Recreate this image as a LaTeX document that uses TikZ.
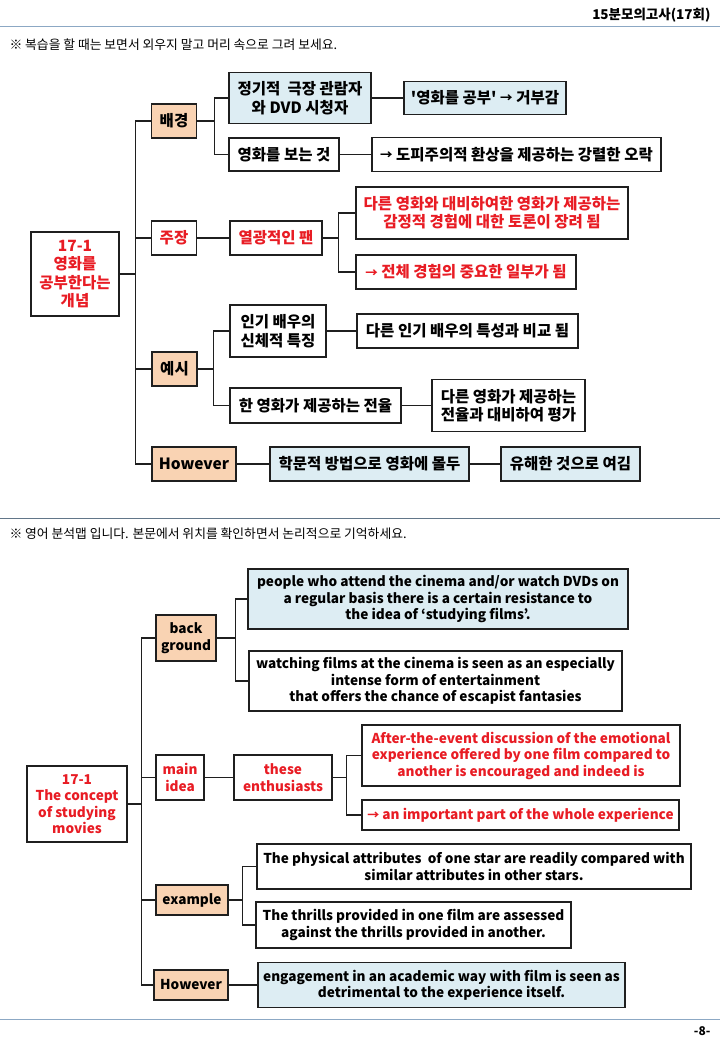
\documentclass[tikz,border=0pt]{standalone}
\usepackage{fontspec}
\setmainfont{Noto Sans CJK KR}
\newfontfamily\plainkr{Noto Sans CJK KR}
\usepackage{tikz}
\definecolor{peach}{RGB}{249,211,179}
\definecolor{pale}{RGB}{221,237,243}
\definecolor{alert}{RGB}{232,28,36}
\definecolor{rule}{RGB}{140,168,196}
\newcommand\smallarr{\raisebox{0.8pt}{\fontsize{12.5}{12.5}\selectfont →}}
\newcommand\enarr{\raisebox{-0.6pt}{\fontsize{12}{12}\selectfont →}}
\newcommand\tick{{\plainkr\bfseries '}}

\begin{document}
\begin{tikzpicture}[x = 1pt, y = -1pt,
  box/.style = {draw = black!88, line width = 1.3pt, align = center, inner sep = 0pt,
    font = \bfseries\fontsize{15.5}{18.5}\selectfont},
  sz/.style 2 args = {minimum width = #1, minimum height = #2},
  peachbox/.style = {box, fill = peach},
  palebox/.style = {box, fill = pale},
  hot/.style = {text = alert},
  en/.style = {font = \bfseries\fontsize{13.6}{16.5}\selectfont},
  wire/.style = {line width = 1.3pt, black!88}]
 \useasboundingbox (0, 0) rectangle (720, 1040);

 \node[anchor = east, font = \bfseries\fontsize{13.5}{15}\selectfont] (title) at (714, 15) {15분모의고사(17회)};
 \draw[rule, line width = 1pt] (0, 27) -- (720, 27);
 \node[anchor = west, font = \fontsize{12.8}{15}\selectfont] (hint1) at (6, 45) {※ 복습을 할 때는 보면서 외우지 말고 머리 속으로 그려 보세요.};

 \node[box, hot, sz = {88}{84}] (root1) at (75, 274) {17-1\\영화를\\공부한다는\\개념};
 \node[peachbox, sz = {45}{34}] (bg1) at (174, 121) {배경};
 \node[palebox, sz = {142}{51}] (bg1a) at (300, 98) {정기적\ \ 극장 관람자\\와 DVD 시청자};
 \node[palebox, sz = {162}{33}] (bg1b) at (485, 98) {\tick 영화를 공부\tick\ \smallarr\ 거부감};
 \node[box, sz = {110}{33}] (bg2) at (284, 154.5) {영화를 보는 것};
 \node[box, sz = {289}{34}] (bg2a) at (516.5, 154.5) {\smallarr\ 도피주의적 환상을 제공하는 강렬한 오락};
 \node[box, hot, sz = {45}{34}] (cl1) at (174, 238) {주장};
 \node[box, hot, sz = {92}{34}] (cl1a) at (276, 238) {열광적인 팬};
 \node[box, hot, sz = {272}{52}] (cl1b) at (492, 213) {다른 영화와 대비하여한 영화가 제공하는\\감정적 경험에 대한 토론이 장려 됨};
 \node[box, hot, sz = {220}{34}] (cl1c) at (466, 272) {\smallarr\ 전체 경험의 중요한 일부가 됨};
 \node[peachbox, sz = {45}{34}] (ex1) at (174.5, 369) {예시};
 \node[box, sz = {96}{52}] (ex1a) at (278, 331) {인기 배우의\\신체적 특징};
 \node[box, sz = {221}{34}] (ex1b) at (467.5, 331) {다른 인기 배우의 특성과 비교 됨};
 \node[box, sz = {171}{35}] (ex2) at (315.5, 405.5) {한 영화가 제공하는 전율};
 \node[box, sz = {153}{52}] (ex2a) at (508.5, 405.5) {다른 영화가 제공하는\\전율과 대비하여 평가};
 \node[peachbox, sz = {84}{34}] (hw1) at (194, 464) {However};
 \node[palebox, sz = {199}{34}] (hw1a) at (369.5, 464) {학문적 방법으로 영화에 몰두};
 \node[palebox, sz = {139}{34}] (hw1b) at (570.5, 464) {유해한 것으로 여김};

 \foreach \kid in {bg1, cl1, ex1, hw1}
  \draw[wire] (root1.east) -- ++(16, 0) |- (\kid.west);
 \draw[wire] (bg1.east) -- ++(17, 0) |- (bg1a.west);
 \draw[wire] (bg1.east) -- ++(17, 0) |- (bg2.west);
 \draw[wire] (bg1a.east) -- (bg1b.west);
 \draw[wire] (bg2.east) -- (bg2a.west);
 \draw[wire] (cl1.east) -- (cl1a.west);
 \draw[wire] (cl1a.east) -- ++(16, 0) |- (cl1b.west);
 \draw[wire] (cl1a.east) -- ++(16, 0) |- (cl1c.west);
 \draw[wire] (ex1.east) -- ++(16, 0) |- (ex1a.west);
 \draw[wire] (ex1.east) -- ++(16, 0) |- (ex2.west);
 \draw[wire] (ex1a.east) -- (ex1b.west);
 \draw[wire] (ex2.east) -- (ex2a.west);
 \draw[wire] (hw1.east) -- (hw1a.west);
 \draw[wire] (hw1a.east) -- (hw1b.west);

 \draw[rule!70!black, line width = 1pt] (0, 518) -- (720, 518);
 \node[anchor = west, font = \fontsize{12.8}{15}\selectfont] (hint2) at (6, 534) {※ 영어 분석맵 입니다. 본문에서 위치를 확인하면서 논리적으로 기억하세요.};

 \node[box, en, hot, sz = {100}{76}] (root2) at (77, 804) {17-1\\The concept\\of studying\\movies};
 \node[peachbox, en, sz = {60}{46}] (bg3) at (186, 638) {back\\ground};
 \node[palebox, en, sz = {380}{60}] (bg3a) at (438, 599) {people who attend the cinema and/or watch DVDs on\\a regular basis there is a certain resistance to\\the idea of ‘studying films’.};
 \node[box, en, sz = {373}{60}] (bg3b) at (435.5, 681) {watching films at the cinema is seen as an especially\\intense form of entertainment\\that offers the chance of escapist fantasies};
 \node[box, en, hot, sz = {48}{45}] (mi) at (180, 777.5) {main\\idea};
 \node[box, en, hot, sz = {98}{45}] (mia) at (283, 777.5) {these\\enthusiasts};
 \node[box, en, hot, sz = {318}{61}] (mib) at (521, 755.5) {After-the-event discussion of the emotional\\experience offered by one film compared to\\another is encouraged and indeed is};
 \node[box, en, hot, sz = {317}{30}] (mic) at (520.5, 815) {\enarr\ an important part of the whole experience};
 \node[peachbox, en, sz = {72}{30}] (ex3) at (192, 900) {example};
 \node[box, en, sz = {434}{45}] (ex3a) at (474, 866.5) {The physical attributes\ \ of one star are readily compared with\\similar attributes in other stars.};
 \node[box, en, sz = {315}{46}] (ex3b) at (413.5, 925) {The thrills provided in one film are assessed\\against the thrills provided in another.};
 \node[peachbox, en, sz = {74}{30}] (hw2) at (191, 985) {However};
 \node[palebox, en, sz = {367}{45}] (hw2a) at (441.5, 985) {engagement in an academic way with film is seen as\\detrimental to the experience itself.};

 \foreach \kid in {bg3, mi, ex3, hw2}
  \draw[wire] (root2.east) -- ++(14, 0) |- (\kid.west);
 \draw[wire] (bg3.east) -- ++(19, 0) |- (bg3a.west);
 \draw[wire] (bg3.east) -- ++(19, 0) |- (bg3b.west);
 \draw[wire] (mi.east) -- (mia.west);
 \draw[wire] (mia.east) -- ++(14, 0) |- (mib.west);
 \draw[wire] (mia.east) -- ++(14, 0) |- (mic.west);
 \draw[wire] (ex3.east) -- ++(14, 0) |- (ex3a.west);
 \draw[wire] (ex3.east) -- ++(14, 0) |- (ex3b.west);
 \draw[wire] (hw2.east) -- (hw2a.west);

 \draw[rule, line width = 1pt] (0, 1019) -- (720, 1019);
 \node[anchor = east, font = \bfseries\fontsize{12}{14}\selectfont] (page) at (714, 1031) {-8-};
\end{tikzpicture}
\end{document}
